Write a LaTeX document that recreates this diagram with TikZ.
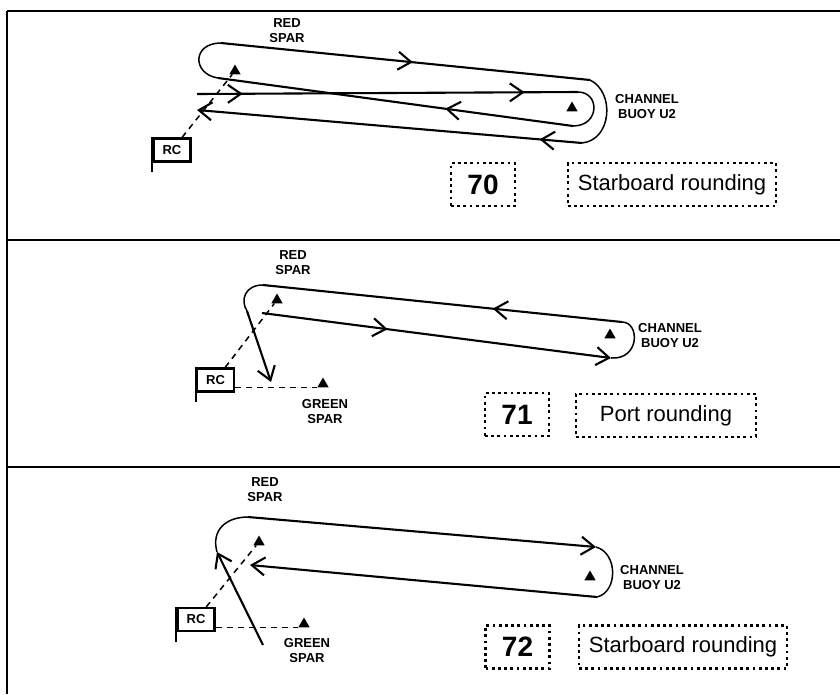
\documentclass[tikz,border=0pt]{standalone}
\usepackage{fontspec}
\setmainfont{Liberation Sans}
\usetikzlibrary{arrows.meta,positioning,calc,decorations.markings,shapes.geometric}

\begin{document}
\begin{tikzpicture}[x=1pt, y=-1pt,
    panelrule/.style={line width=2pt},
    leg/.style={line width=2.1pt},
    loopline/.style={line width=1.5pt},
    finish/.style={line width=1.5pt, dash pattern=on 6pt off 5pt},
    buoy/.style={regular polygon, regular polygon sides=3, fill=black, inner sep=0pt, minimum size=13pt},
    spartag/.style={font=\bfseries\fontsize{13}{15}\selectfont, align=center},
    rcflag/.style={draw, line width=2.2pt, font=\bfseries\fontsize{13}{14}\selectfont, minimum width=37pt, minimum height=23pt, inner sep=0pt},
    numbox/.style={draw, line width=2.8pt, dash pattern=on 2.8pt off 3.4pt, font=\bfseries\fontsize{28}{30}\selectfont, minimum width=64pt, minimum height=43pt, inner sep=0pt},
    notebox/.style={draw, line width=2.8pt, dash pattern=on 2.8pt off 3.4pt, font=\fontsize{22}{24}\selectfont, minimum height=43pt, inner sep=0pt},
    endbarb/.style={-{Straight Barb[length=13pt,width=18pt]}},
    midarrow/.style={postaction={decorate, decoration={markings, mark=at position #1 with {\arrow{Straight Barb[length=13pt,width=18pt]}}}}}
]
    \useasboundingbox (0,0) rectangle (840,694);

    % Panel rules
    \draw[panelrule] (7,11) -- (840,11);
    \draw[panelrule] (7,240) -- (840,240);
    \draw[panelrule] (7,467) -- (840,467);
    \draw[panelrule] (7,11) -- (7,694);

    % ---- 70 ----
    \node[buoy] (redA) at (235,71) {};
    \node[buoy] (chanA) at (572,108) {};
    \node[spartag] (redtagA) at (287,31) {RED\\SPAR};
    \node[spartag] (chantagA) at (647,107) {CHANNEL\\BUOY U2};
    \node[rcflag] (rcA) at (172,150) {RC};
    \draw[panelrule] (rcA.north west) -- ++(0,35);
    \draw[finish] (rcA) -- (redA);

    % Course
    \coordinate (a1) at (197,94);
    \coordinate (a2) at (578,92);
    \coordinate (a3) at (573,126);
    \coordinate (a4) at (218,78);
    \coordinate (a5) at (221,43);
    \coordinate (a6) at (590,80);
    \coordinate (a7) at (582,143);
    \coordinate (a8) at (197,110);
    \draw[leg, midarrow=0.12, midarrow=0.86] (a1) -- (a2);
    \draw[loopline] (a2) .. controls (600,92) and (600,126) .. (a3);
    \draw[leg, midarrow=0.36] (a3) -- (a4);
    \draw[loopline] (a4) .. controls (192,74) and (192,43) .. (a5);
    \draw[leg, midarrow=0.52] (a5) -- (a6);
    \draw[loopline] (a6) .. controls (615,92) and (612,140) .. (a7);
    \draw[leg, endbarb, midarrow=0.11] (a7) -- (a8);

    \node[numbox] (numA) at (483,184.5) {70};
    \node[notebox, minimum width=208pt] (noteA) at (672,184.5) {Starboard rounding};

    % ---- 71 ----
    \node[buoy] (redB) at (277,300) {};
    \node[buoy] (chanB) at (610,335) {};
    \node[buoy] (greenB) at (323,384) {};
    \node[spartag] (redtagB) at (293,263) {RED\\SPAR};
    \node[spartag] (chantagB) at (670,336) {CHANNEL\\BUOY U2};
    \node[spartag] (greentagB) at (325,412) {GREEN\\SPAR};
    \node[rcflag] (rcB) at (215.5,380) {RC};
    \draw[panelrule] (rcB.north west) -- ++(0,35);
    \draw[finish] (rcB) -- (redB);
    \draw[finish] (rcB.east |- greenB.corner 2) -- (greenB.corner 2);

    % Course
    \coordinate (b1) at (262,313);
    \coordinate (b2) at (611,358);
    \coordinate (b3) at (622,322);
    \coordinate (b4) at (263,285);
    \coordinate (b5) at (247,311);
    \coordinate (b6) at (271,382);
    \draw[leg, endbarb, midarrow=0.36] (b1) -- (b2);
    \draw[loopline] (b2) .. controls (640,360) and (640,322) .. (b3);
    \draw[leg, midarrow=0.36] (b3) -- (b4);
    \draw[loopline] (b4) .. controls (245,285) and (240,300) .. (b5);
    \draw[leg, endbarb] (b5) -- (b6);

    \node[numbox] (numB) at (517,414.5) {71};
    \node[notebox, minimum width=180pt] (noteB) at (666,415.5) {Port rounding};

    % ---- 72 ----
    \node[buoy] (redC) at (259,542) {};
    \node[buoy] (chanC) at (590,577) {};
    \node[buoy] (greenC) at (304,624) {};
    \node[spartag] (redtagC) at (265,490) {RED\\SPAR};
    \node[spartag] (chantagC) at (652,578) {CHANNEL\\BUOY U2};
    \node[spartag] (greentagC) at (307,651) {GREEN\\SPAR};
    \node[rcflag] (rcC) at (196,619.5) {RC};
    \draw[panelrule] (rcC.north west) -- ++(0,35);
    \draw[finish] (rcC) -- (redC);
    \draw[finish] (rcC.east |- greenC.corner 2) -- (greenC.corner 2);

    % Course
    \coordinate (c1) at (263,645);
    \coordinate (c2) at (217,552);
    \coordinate (c3) at (248,517);
    \coordinate (c4) at (596,547);
    \coordinate (c5) at (597,597);
    \coordinate (c6) at (250,565);
    \draw[leg, endbarb] (c1) -- (c2);
    \draw[loopline] (c2) .. controls (211,530) and (226,517) .. (c3);
    \draw[leg, endbarb] (c3) -- (c4);
    \draw[loopline] (c4) .. controls (618,553) and (618,592) .. (c5);
    \draw[leg, endbarb] (c5) -- (c6);

    \node[numbox] (numC) at (517.5,647) {72};
    \node[notebox, minimum width=208pt] (noteC) at (683,647) {Starboard rounding};
\end{tikzpicture}
\end{document}
